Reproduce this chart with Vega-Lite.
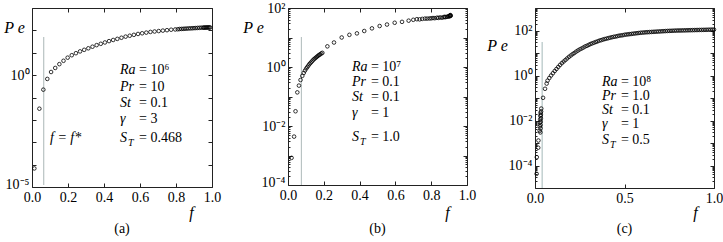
{
"$schema":"https://vega.github.io/schema/vega-lite/v6.json",
"padding":{"left":3,"top":0,"right":0,"bottom":0},
"config":{
 "font":"Liberation Serif",
 "view":{"stroke":"#222","strokeWidth":1},
 "axis":{"domain":false,"grid":false,"labelFont":"Liberation Serif","labelFontSize":14,"labelColor":"black","tickColor":"#222","tickSize":-4,"labelPadding":7,"labelFlush":false,"titleFont":"Liberation Serif","titleFontSize":16,"titleFontStyle":"italic","titleFontWeight":"normal","titleColor":"black","titleAngle":0,"titleAlign":"center","titleBaseline":"middle"},
 "title":{"font":"Liberation Serif","fontSize":14,"fontWeight":"normal","color":"black"},
 "text":{"font":"Liberation Serif","color":"black"}
},
"datasets":{
 "pa":[{"f":0.013,"Pe":6.76e-5},{"f":0.041,"Pe":0.0316},{"f":0.063,"Pe":0.224},{"f":0.085,"Pe":0.676},{"f":0.106,"Pe":1.38},{"f":0.129,"Pe":2.09},{"f":0.152,"Pe":3.09},{"f":0.175,"Pe":4.37},{"f":0.198,"Pe":6.03},{"f":0.221,"Pe":7.76},{"f":0.244,"Pe":9.55},{"f":0.267,"Pe":11.5},{"f":0.29,"Pe":13.5},{"f":0.313,"Pe":15.8},{"f":0.336,"Pe":18.6},{"f":0.359,"Pe":21.9},{"f":0.382,"Pe":25.1},{"f":0.405,"Pe":28.8},{"f":0.428,"Pe":33.1},{"f":0.451,"Pe":37.2},{"f":0.474,"Pe":41.7},{"f":0.497,"Pe":46.8},{"f":0.52,"Pe":52.5},{"f":0.543,"Pe":57.5},{"f":0.566,"Pe":63.1},{"f":0.589,"Pe":69.2},{"f":0.612,"Pe":74.1},{"f":0.635,"Pe":79.4},{"f":0.658,"Pe":85.1},{"f":0.681,"Pe":89.1},{"f":0.704,"Pe":93.3},{"f":0.727,"Pe":97.7},{"f":0.75,"Pe":102},{"f":0.773,"Pe":107},{"f":0.796,"Pe":110},{"f":0.81,"Pe":112},{"f":0.82,"Pe":115},{"f":0.83,"Pe":116},{"f":0.84,"Pe":117},{"f":0.85,"Pe":119},{"f":0.86,"Pe":120},{"f":0.87,"Pe":122},{"f":0.88,"Pe":123},{"f":0.89,"Pe":124},{"f":0.9,"Pe":126},{"f":0.91,"Pe":127},{"f":0.92,"Pe":129},{"f":0.93,"Pe":130},{"f":0.94,"Pe":132},{"f":0.95,"Pe":132},{"f":0.955,"Pe":133},{"f":0.96,"Pe":133},{"f":0.965,"Pe":134},{"f":0.97,"Pe":134},{"f":0.975,"Pe":135},{"f":0.98,"Pe":135},{"f":0.985,"Pe":135},{"f":0.99,"Pe":135}],
 "pb":[{"f":0.02,"Pe":8.32e-4},{"f":0.034,"Pe":4.37e-3},{"f":0.042,"Pe":0.0316},{"f":0.052,"Pe":0.138},{"f":0.061,"Pe":0.234},{"f":0.07,"Pe":0.363},{"f":0.08,"Pe":0.501},{"f":0.088,"Pe":0.631},{"f":0.095,"Pe":0.759},{"f":0.102,"Pe":0.891},{"f":0.108,"Pe":1.0},{"f":0.114,"Pe":1.12},{"f":0.12,"Pe":1.26},{"f":0.126,"Pe":1.38},{"f":0.132,"Pe":1.51},{"f":0.138,"Pe":1.66},{"f":0.144,"Pe":1.82},{"f":0.15,"Pe":1.95},{"f":0.156,"Pe":2.09},{"f":0.162,"Pe":2.24},{"f":0.168,"Pe":2.4},{"f":0.174,"Pe":2.57},{"f":0.18,"Pe":2.69},{"f":0.186,"Pe":2.88},{"f":0.192,"Pe":3.02},{"f":0.22,"Pe":5.01},{"f":0.257,"Pe":6.76},{"f":0.3,"Pe":10},{"f":0.343,"Pe":12.3},{"f":0.385,"Pe":13.8},{"f":0.426,"Pe":16.6},{"f":0.469,"Pe":20.4},{"f":0.512,"Pe":24.5},{"f":0.553,"Pe":27.5},{"f":0.596,"Pe":31.6},{"f":0.637,"Pe":33.9},{"f":0.674,"Pe":37.2},{"f":0.7,"Pe":39.8},{"f":0.72,"Pe":41.7},{"f":0.735,"Pe":41.2},{"f":0.75,"Pe":42.7},{"f":0.765,"Pe":43.7},{"f":0.777,"Pe":43.7},{"f":0.79,"Pe":44.2},{"f":0.8,"Pe":44.7},{"f":0.81,"Pe":45.7},{"f":0.82,"Pe":45.2},{"f":0.832,"Pe":46.8},{"f":0.84,"Pe":46.2},{"f":0.85,"Pe":47.9},{"f":0.86,"Pe":46.8},{"f":0.87,"Pe":49},{"f":0.875,"Pe":50.1},{"f":0.88,"Pe":49},{"f":0.888,"Pe":50.1},{"f":0.895,"Pe":52.5},{"f":0.9,"Pe":51.3},{"f":0.903,"Pe":53.7},{"f":0.905,"Pe":56.2},{"f":0.907,"Pe":53.7},{"f":0.907,"Pe":57.5},{"f":0.909,"Pe":55}],
 "pc":[{"f":0.009,"Pe":4.27e-5},{"f":0.01,"Pe":2.34e-4},{"f":0.018,"Pe":6.17e-4},{"f":0.019,"Pe":1.29e-3},{"f":0.026,"Pe":3.5e-3},{"f":0.027,"Pe":5.5e-3},{"f":0.028,"Pe":8e-3},{"f":0.029,"Pe":0.011},{"f":0.03,"Pe":0.016},{"f":0.031,"Pe":0.022},{"f":0.03,"Pe":2.95e-3},{"f":0.031,"Pe":4.47e-3},{"f":0.031,"Pe":6.31e-3},{"f":0.032,"Pe":8.91e-3},{"f":0.033,"Pe":0.0126},{"f":0.033,"Pe":0.0178},{"f":0.034,"Pe":0.0251},{"f":0.035,"Pe":0.0339},{"f":0.045,"Pe":0.102},{"f":0.056,"Pe":0.257},{"f":0.065,"Pe":0.437},{"f":0.07,"Pe":0.589},{"f":0.08,"Pe":0.776},{"f":0.09,"Pe":1.0},{"f":0.1,"Pe":1.26},{"f":0.11,"Pe":1.58},{"f":0.12,"Pe":1.95},{"f":0.13,"Pe":2.4},{"f":0.14,"Pe":2.95},{"f":0.15,"Pe":3.55},{"f":0.16,"Pe":4.17},{"f":0.17,"Pe":4.9},{"f":0.18,"Pe":5.75},{"f":0.19,"Pe":6.76},{"f":0.2,"Pe":7.76},{"f":0.21,"Pe":8.91},{"f":0.22,"Pe":10.0},{"f":0.23,"Pe":11.5},{"f":0.24,"Pe":12.9},{"f":0.25,"Pe":14.5},{"f":0.26,"Pe":15.8},{"f":0.27,"Pe":17.4},{"f":0.28,"Pe":19.5},{"f":0.29,"Pe":20.9},{"f":0.3,"Pe":22.9},{"f":0.31,"Pe":25.1},{"f":0.32,"Pe":26.9},{"f":0.33,"Pe":28.8},{"f":0.34,"Pe":30.9},{"f":0.35,"Pe":33.1},{"f":0.36,"Pe":35.5},{"f":0.37,"Pe":37.2},{"f":0.38,"Pe":39.8},{"f":0.39,"Pe":41.7},{"f":0.4,"Pe":43.7},{"f":0.41,"Pe":45.7},{"f":0.42,"Pe":47.9},{"f":0.43,"Pe":50.1},{"f":0.44,"Pe":52.5},{"f":0.45,"Pe":53.7},{"f":0.46,"Pe":56.2},{"f":0.47,"Pe":58.9},{"f":0.48,"Pe":60.3},{"f":0.49,"Pe":61.7},{"f":0.5,"Pe":64.6},{"f":0.51,"Pe":66.1},{"f":0.52,"Pe":67.6},{"f":0.53,"Pe":69.2},{"f":0.54,"Pe":70.8},{"f":0.55,"Pe":72.4},{"f":0.56,"Pe":74.1},{"f":0.57,"Pe":75.9},{"f":0.58,"Pe":77.6},{"f":0.59,"Pe":79.4},{"f":0.6,"Pe":80.4},{"f":0.61,"Pe":81.7},{"f":0.62,"Pe":83.2},{"f":0.63,"Pe":84.1},{"f":0.64,"Pe":85.1},{"f":0.65,"Pe":86.1},{"f":0.66,"Pe":87.1},{"f":0.67,"Pe":88.1},{"f":0.68,"Pe":89.1},{"f":0.69,"Pe":90.2},{"f":0.7,"Pe":91.2},{"f":0.71,"Pe":92.3},{"f":0.72,"Pe":93.3},{"f":0.73,"Pe":94.4},{"f":0.74,"Pe":95.5},{"f":0.75,"Pe":96.2},{"f":0.76,"Pe":96.8},{"f":0.77,"Pe":97.7},{"f":0.78,"Pe":98.4},{"f":0.79,"Pe":99.1},{"f":0.8,"Pe":100},{"f":0.81,"Pe":100},{"f":0.82,"Pe":100.7},{"f":0.83,"Pe":101.2},{"f":0.84,"Pe":101.6},{"f":0.85,"Pe":102.3},{"f":0.86,"Pe":102.8},{"f":0.87,"Pe":103.3},{"f":0.88,"Pe":103.8},{"f":0.89,"Pe":104.2},{"f":0.9,"Pe":104.7},{"f":0.91,"Pe":105.2},{"f":0.92,"Pe":105.7},{"f":0.93,"Pe":106.2},{"f":0.94,"Pe":106.7},{"f":0.95,"Pe":107.2},{"f":0.96,"Pe":107.6},{"f":0.97,"Pe":108.1},{"f":0.98,"Pe":108.6},{"f":0.99,"Pe":109.6},{"f":1.0,"Pe":109.6}],
 "ta":[{"f":0.489,"Pe":1.7,"name":"Ra","val":"= 10⁶","sub":""},{"f":0.489,"Pe":0.3,"name":"Pr","val":"= 10","sub":""},{"f":0.489,"Pe":0.055,"name":"St","val":"= 0.1","sub":""},{"f":0.489,"Pe":0.0115,"name":"γ","val":"= 3","sub":""},{"f":0.489,"Pe":0.00155,"name":"S","val":"= 0.468","sub":"T"},{"f":0.1,"Pe":0.0016,"name":"f = f*","val":"","sub":""}],
 "tb":[{"f":0.357,"Pe":1.0,"name":"Ra","val":"= 10⁷","sub":""},{"f":0.357,"Pe":0.32,"name":"Pr","val":"= 0.1","sub":""},{"f":0.357,"Pe":0.095,"name":"St","val":"= 0.1","sub":""},{"f":0.357,"Pe":0.027,"name":"γ","val":"= 1","sub":""},{"f":0.357,"Pe":0.0042,"name":"S","val":"= 1.0","sub":"T"}],
 "tc":[{"f":0.374,"Pe":0.514,"name":"Ra","val":"= 10⁸","sub":""},{"f":0.374,"Pe":0.123,"name":"Pr","val":"= 1.0","sub":""},{"f":0.374,"Pe":0.0293,"name":"St","val":"= 0.1","sub":""},{"f":0.374,"Pe":0.0072,"name":"γ","val":"= 1","sub":""},{"f":0.374,"Pe":0.0013,"name":"S","val":"= 0.5","sub":"T"}]
},
"bounds":"flush",
"spacing":76,
"hconcat":[
{
 "width":180,"height":179,
 "title":{"text":"(a)","orient":"bottom","offset":2},
 "resolve":{"axis":{"x":"independent","y":"independent"}},
 "layer":[
  {"data":{"values":[{"f":0.065,"top":50.6,"bot":1.23e-5}]},
   "mark":{"type":"rule","color":"#b9c3c3","strokeWidth":1.2},
   "encoding":{
    "x":{"field":"f","type":"quantitative","scale":{"domain":[0,1],"nice":false,"zero":false},"axis":{"orient":"top","labels":false,"title":null,"values":[0,0.2,0.4,0.6,0.8,1]}},
    "y":{"field":"top","type":"quantitative","scale":{"type":"log","domain":[0.00001,1000],"nice":false},"axis":{"orient":"right","labels":false,"title":null,"values":[0.00001,0.0001,0.001,0.01,0.1,1,10,100,1000]}},
    "y2":{"field":"bot"}}},
  {"data":{"name":"pa"},
   "mark":{"type":"point","shape":"circle","filled":false,"color":"black","size":13,"strokeWidth":0.8,"opacity":1},
   "encoding":{
    "x":{"field":"f","type":"quantitative","scale":{"domain":[0,1],"nice":false,"zero":false},"axis":{"orient":"bottom","values":[0,0.2,0.4,0.6,0.8,1],"format":".1f","title":"f","titleX":159,"titleY":25}},
    "y":{"field":"Pe","type":"quantitative","scale":{"type":"log","domain":[0.00001,1000],"nice":false},"axis":{"orient":"left","values":[0.00001,0.0001,0.001,0.01,0.1,1,10,100,1000],"labelOffset":{"condition":{"test":"datum.value < 0.0001","value":-3},"value":0},"labelExpr":"datum.value == 1 ? '10⁰' : datum.value == 0.00001 ? '10⁻⁵' : ''","title":"P e","titleX":-18,"titleY":19}}}},
  {"data":{"name":"ta"},
   "mark":{"type":"text","align":"left","baseline":"middle","fontStyle":"italic","fontSize":14},
   "encoding":{
    "x":{"field":"f","type":"quantitative","scale":{"domain":[0,1],"nice":false,"zero":false},"axis":null},
    "y":{"field":"Pe","type":"quantitative","scale":{"type":"log","domain":[0.00001,1000],"nice":false},"axis":null},
    "text":{"field":"name"}}},
  {"data":{"name":"ta"},
   "mark":{"type":"text","align":"left","baseline":"middle","fontSize":14,"dx":19},
   "encoding":{
    "x":{"field":"f","type":"quantitative","scale":{"domain":[0,1],"nice":false,"zero":false},"axis":null},
    "y":{"field":"Pe","type":"quantitative","scale":{"type":"log","domain":[0.00001,1000],"nice":false},"axis":null},
    "text":{"field":"val"}}},
  {"data":{"name":"ta"},
   "mark":{"type":"text","align":"left","baseline":"middle","fontStyle":"italic","fontSize":10,"dx":8,"dy":5},
   "encoding":{
    "x":{"field":"f","type":"quantitative","scale":{"domain":[0,1],"nice":false,"zero":false},"axis":null},
    "y":{"field":"Pe","type":"quantitative","scale":{"type":"log","domain":[0.00001,1000],"nice":false},"axis":null},
    "text":{"field":"sub"}}}
 ]
},
{
 "hconcat":[
 {
 "width":179,"height":177,
 "title":{"text":"(b)","orient":"bottom","offset":2},
 "resolve":{"axis":{"x":"independent","y":"independent"}},
 "layer":[
  {"data":{"values":[{"f":0.075,"top":10.4,"bot":0.0001}]},
   "mark":{"type":"rule","color":"#b9c3c3","strokeWidth":1.2},
   "encoding":{
    "x":{"field":"f","type":"quantitative","scale":{"domain":[0,1],"nice":false,"zero":false},"axis":{"orient":"top","labels":false,"title":null,"values":[0,0.2,0.4,0.6,0.8,1]}},
    "y":{"field":"top","type":"quantitative","scale":{"type":"log","domain":[0.0001,100],"nice":false},"axis":{"orient":"right","labels":false,"title":null,"values":[0.0001,0.0002,0.0003,0.0004,0.0005,0.0006,0.0007,0.0008,0.0009,0.001,0.002,0.003,0.004,0.005,0.006,0.007,0.008,0.009,0.01,0.02,0.03,0.04,0.05,0.06,0.07,0.08,0.09,0.1,0.2,0.3,0.4,0.5,0.6,0.7,0.8,0.9,1,2,3,4,5,6,7,8,9,10,20,30,40,50,60,70,80,90,100],"tickSize":{"condition":{"test":"abs(log(datum.value)/LN10 - round(log(datum.value)/LN10)) < 0.001","value":-4},"value":-2}}},
    "y2":{"field":"bot"}}},
  {"data":{"name":"pb"},
   "mark":{"type":"point","shape":"circle","filled":false,"color":"black","size":13,"strokeWidth":0.8,"opacity":1},
   "encoding":{
    "x":{"field":"f","type":"quantitative","scale":{"domain":[0,1],"nice":false,"zero":false},"axis":{"orient":"bottom","values":[0,0.2,0.4,0.6,0.8,1],"format":".1f","title":"f","titleX":159,"titleY":27}},
    "y":{"field":"Pe","type":"quantitative","scale":{"type":"log","domain":[0.0001,100],"nice":false},"axis":{"orient":"left","values":[0.0001,0.0002,0.0003,0.0004,0.0005,0.0006,0.0007,0.0008,0.0009,0.001,0.002,0.003,0.004,0.005,0.006,0.007,0.008,0.009,0.01,0.02,0.03,0.04,0.05,0.06,0.07,0.08,0.09,0.1,0.2,0.3,0.4,0.5,0.6,0.7,0.8,0.9,1,2,3,4,5,6,7,8,9,10,20,30,40,50,60,70,80,90,100],"tickSize":{"condition":{"test":"abs(log(datum.value)/LN10 - round(log(datum.value)/LN10)) < 0.001","value":-4},"value":-2},"labelOffset":{"condition":{"test":"datum.value < 0.00015","value":-3},"value":0},"labelExpr":"datum.value == 100 ? '10²' : datum.value == 1 ? '10⁰' : datum.value == 0.01 ? '10⁻²' : datum.value == 0.0001 ? '10⁻⁴' : ''","title":"P e","titleX":-35,"titleY":19}}}},
  {"data":{"name":"tb"},
   "mark":{"type":"text","align":"left","baseline":"middle","fontStyle":"italic","fontSize":14},
   "encoding":{
    "x":{"field":"f","type":"quantitative","scale":{"domain":[0,1],"nice":false,"zero":false},"axis":null},
    "y":{"field":"Pe","type":"quantitative","scale":{"type":"log","domain":[0.0001,100],"nice":false},"axis":null},
    "text":{"field":"name"}}},
  {"data":{"name":"tb"},
   "mark":{"type":"text","align":"left","baseline":"middle","fontSize":14,"dx":19},
   "encoding":{
    "x":{"field":"f","type":"quantitative","scale":{"domain":[0,1],"nice":false,"zero":false},"axis":null},
    "y":{"field":"Pe","type":"quantitative","scale":{"type":"log","domain":[0.0001,100],"nice":false},"axis":null},
    "text":{"field":"val"}}},
  {"data":{"name":"tb"},
   "mark":{"type":"text","align":"left","baseline":"middle","fontStyle":"italic","fontSize":10,"dx":8,"dy":5},
   "encoding":{
    "x":{"field":"f","type":"quantitative","scale":{"domain":[0,1],"nice":false,"zero":false},"axis":null},
    "y":{"field":"Pe","type":"quantitative","scale":{"type":"log","domain":[0.0001,100],"nice":false},"axis":null},
    "text":{"field":"sub"}}}
 ]
 },
 {
 "width":179,"height":180,
 "title":{"text":"(c)","orient":"bottom","offset":2},
 "resolve":{"axis":{"x":"independent","y":"independent"}},
 "layer":[
  {"data":{"values":[{"f":0.04,"top":30.8,"bot":0.00001}]},
   "mark":{"type":"rule","color":"#b3c4c4","strokeWidth":1.2},
   "encoding":{
    "x":{"field":"f","type":"quantitative","scale":{"domain":[0,1],"nice":false,"zero":false},"axis":{"orient":"top","labels":false,"title":null,"values":[0,0.5,1]}},
    "y":{"field":"top","type":"quantitative","scale":{"type":"log","domain":[0.00001,1000],"nice":false},"axis":{"orient":"right","labels":false,"title":null,"values":[0.00001,0.00002,0.00003,0.00004,0.00005,0.00006,0.00007,0.00008,0.00009,0.0001,0.0002,0.0003,0.0004,0.0005,0.0006,0.0007,0.0008,0.0009,0.001,0.002,0.003,0.004,0.005,0.006,0.007,0.008,0.009,0.01,0.02,0.03,0.04,0.05,0.06,0.07,0.08,0.09,0.1,0.2,0.3,0.4,0.5,0.6,0.7,0.8,0.9,1,2,3,4,5,6,7,8,9,10,20,30,40,50,60,70,80,90,100,200,300,400,500,600,700,800,900,1000],"tickSize":{"condition":{"test":"abs(log(datum.value)/LN10 - round(log(datum.value)/LN10)) < 0.001","value":-4},"value":-2}}},
    "y2":{"field":"bot"}}},
  {"data":{"name":"pc"},
   "mark":{"type":"point","shape":"circle","filled":false,"color":"black","size":13,"strokeWidth":0.8,"opacity":1},
   "encoding":{
    "x":{"field":"f","type":"quantitative","scale":{"domain":[0,1],"nice":false,"zero":false},"axis":{"orient":"bottom","values":[0,0.5,1],"format":".1f","title":"f","titleX":160,"titleY":24}},
    "y":{"field":"Pe","type":"quantitative","scale":{"type":"log","domain":[0.00001,1000],"nice":false},"axis":{"orient":"left","values":[0.00001,0.00002,0.00003,0.00004,0.00005,0.00006,0.00007,0.00008,0.00009,0.0001,0.0002,0.0003,0.0004,0.0005,0.0006,0.0007,0.0008,0.0009,0.001,0.002,0.003,0.004,0.005,0.006,0.007,0.008,0.009,0.01,0.02,0.03,0.04,0.05,0.06,0.07,0.08,0.09,0.1,0.2,0.3,0.4,0.5,0.6,0.7,0.8,0.9,1,2,3,4,5,6,7,8,9,10,20,30,40,50,60,70,80,90,100,200,300,400,500,600,700,800,900,1000],"tickSize":{"condition":{"test":"abs(log(datum.value)/LN10 - round(log(datum.value)/LN10)) < 0.001","value":-4},"value":-2},"labelExpr":"datum.value == 100 ? '10²' : datum.value == 1 ? '10⁰' : datum.value == 0.01 ? '10⁻²' : datum.value == 0.0001 ? '10⁻⁴' : ''","title":"P e","titleX":-38,"titleY":37}}}},
  {"data":{"name":"tc"},
   "mark":{"type":"text","align":"left","baseline":"middle","fontStyle":"italic","fontSize":14},
   "encoding":{
    "x":{"field":"f","type":"quantitative","scale":{"domain":[0,1],"nice":false,"zero":false},"axis":null},
    "y":{"field":"Pe","type":"quantitative","scale":{"type":"log","domain":[0.00001,1000],"nice":false},"axis":null},
    "text":{"field":"name"}}},
  {"data":{"name":"tc"},
   "mark":{"type":"text","align":"left","baseline":"middle","fontSize":14,"dx":19},
   "encoding":{
    "x":{"field":"f","type":"quantitative","scale":{"domain":[0,1],"nice":false,"zero":false},"axis":null},
    "y":{"field":"Pe","type":"quantitative","scale":{"type":"log","domain":[0.00001,1000],"nice":false},"axis":null},
    "text":{"field":"val"}}},
  {"data":{"name":"tc"},
   "mark":{"type":"text","align":"left","baseline":"middle","fontStyle":"italic","fontSize":10,"dx":8,"dy":5},
   "encoding":{
    "x":{"field":"f","type":"quantitative","scale":{"domain":[0,1],"nice":false,"zero":false},"axis":null},
    "y":{"field":"Pe","type":"quantitative","scale":{"type":"log","domain":[0.00001,1000],"nice":false},"axis":null},
    "text":{"field":"sub"}}}
 ]
 }
 ],
 "spacing":68,
 "bounds":"flush"
}
]
}
